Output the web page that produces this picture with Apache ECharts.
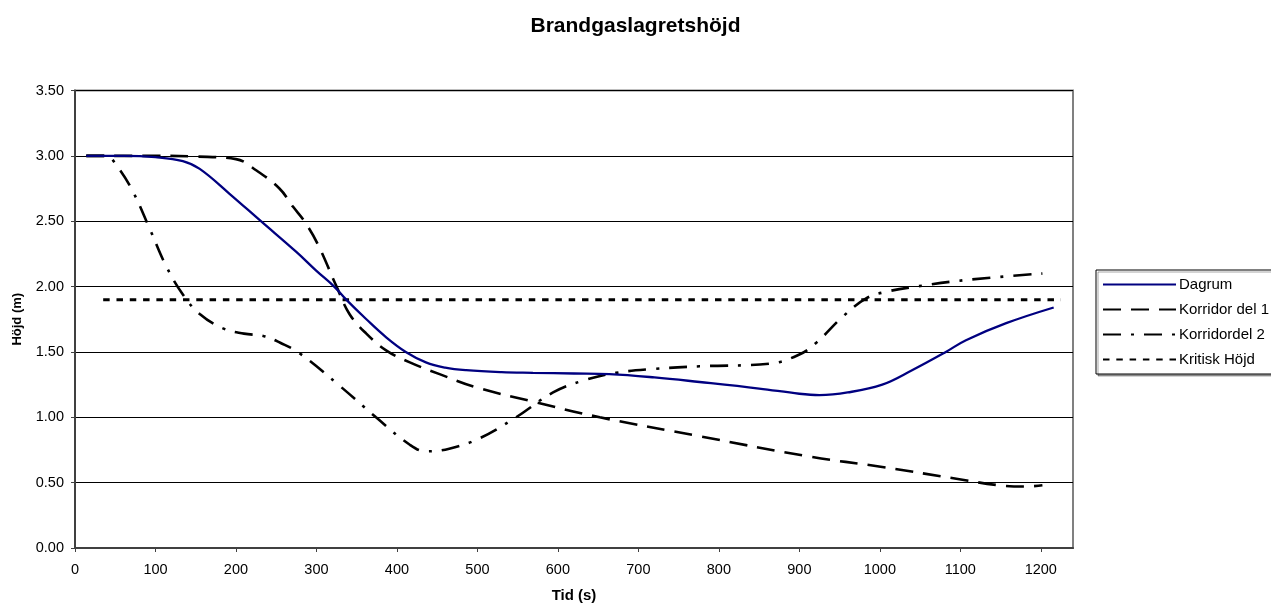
<!DOCTYPE html>
<html>
<head>
<meta charset="utf-8">
<title>Brandgaslagretshöjd</title>
<script src="https://cdn.jsdelivr.net/npm/echarts@6/dist/echarts.min.js"></script>
<style>
  html, body { margin: 0; padding: 0; background: #fff; }
  #chart { width: 1271px; height: 608px; }
</style>
</head>
<body>
<div id="chart"></div>
<script>
// Smoke layer height over time, per zone
const dagrumTid  = [14, 60, 100, 134, 155, 192, 231, 275, 300, 322, 337, 362, 387, 411, 436, 460, 486, 530, 569, 620, 664, 720, 776, 850, 900, 925, 960, 1003, 1040, 1082, 1107, 1157, 1216];
const dagrumHojd = [3.00, 3.00, 2.99, 2.96, 2.90, 2.71, 2.50, 2.265, 2.12, 2.00, 1.90, 1.75, 1.61, 1.50, 1.42, 1.38, 1.36, 1.345, 1.34, 1.335, 1.33, 1.305, 1.27, 1.22, 1.18, 1.17, 1.19, 1.25, 1.36, 1.50, 1.59, 1.72, 1.84];

const korr1Tid  = [14, 100, 150, 200, 225, 254, 271, 285, 302, 325, 341, 362, 387, 416, 453, 498, 569, 652, 776, 912, 1003, 1095, 1148, 1180, 1202];
const korr1Hojd = [3.00, 3.00, 2.995, 2.975, 2.89, 2.75, 2.61, 2.50, 2.32, 2.00, 1.79, 1.64, 1.51, 1.42, 1.33, 1.23, 1.12, 1.00, 0.855, 0.70, 0.62, 0.53, 0.48, 0.47, 0.48];

const korr2Tid  = [14, 40, 49, 70, 93, 113, 134, 155, 184, 210, 235, 255, 279, 329, 374, 416, 436, 465, 503, 548, 594, 631, 672, 720, 776, 863, 900, 921, 954, 983, 1008, 1045, 1107, 1202];
const korr2Hojd = [3.00, 3.00, 2.95, 2.75, 2.44, 2.16, 1.94, 1.79, 1.68, 1.64, 1.62, 1.57, 1.49, 1.24, 1.00, 0.79, 0.74, 0.76, 0.84, 1.00, 1.19, 1.28, 1.34, 1.37, 1.39, 1.41, 1.48, 1.57, 1.77, 1.91, 1.96, 2.00, 2.05, 2.10];

const kritiskTid  = [35, 1225];
const kritiskHojd = [1.90, 1.90];

const seriesNames = ['Dagrum', 'Korridor del 1', 'Korridordel 2', 'Kritisk Höjd'];

const xMin = 0, xMax = 1240, xStep = 100;
const yMin = 0, yMax = 3.5, yStep = 0.5;

const zip = (xs, ys) => xs.map((x, i) => [x, ys[i]]);

const FONT = 'Liberation Sans, Arial, Helvetica, sans-serif';

const chart = echarts.init(document.getElementById('chart'), null, { renderer: 'canvas' });

chart.setOption({
  animation: false,
  backgroundColor: '#ffffff',
  title: {
    text: 'Brandgaslagretshöjd',
    left: 'center',
    top: 11,
    textStyle: { fontFamily: FONT, fontSize: 21, fontWeight: 'bold', color: '#000' }
  },
  legend: {
    data: seriesNames,
    orient: 'vertical',
    left: 1096,
    top: 270,
    itemWidth: 73,
    itemHeight: 15,
    itemGap: 10,
    padding: [7, 4, 7, 6],
    borderColor: '#000',
    borderWidth: 1,
    backgroundColor: '#fff',
    shadowColor: 'rgba(0,0,0,0.35)',
    shadowOffsetX: 2,
    shadowOffsetY: 2,
    shadowBlur: 0,
    itemStyle: { opacity: 0 },
    textStyle: { fontFamily: FONT, fontSize: 15, color: '#000', padding: [0, 0, 0, -2] }
  },
  grid: {
    left: 75,
    right: 198,
    top: 90.5,
    bottom: 56,
    show: true,
    borderColor: '#808080',
    borderWidth: 2,
    containLabel: false
  },
  xAxis: {
    type: 'value',
    min: xMin,
    max: xMax,
    interval: xStep,
    name: 'Tid (s)',
    nameLocation: 'middle',
    nameGap: 40,
    nameTextStyle: { fontFamily: FONT, fontSize: 15, fontWeight: 'bold', color: '#000' },
    axisLine: { show: true, lineStyle: { color: '#404040', width: 2 } },
    axisTick: { show: true, length: 4, lineStyle: { color: '#404040', width: 1 } },
    axisLabel: {
      margin: 14, showMaxLabel: false,
      fontFamily: FONT, fontSize: 14.5, color: '#000',
      formatter: v => String(v)
    },
    splitLine: { show: false }
  },
  yAxis: {
    type: 'value',
    min: yMin,
    max: yMax,
    interval: yStep,
    name: 'Höjd (m)',
    nameLocation: 'middle',
    nameGap: 51,
    nameTextStyle: { fontFamily: FONT, fontSize: 13, fontWeight: 'bold', color: '#000' },
    axisLine: { show: true, lineStyle: { color: '#404040', width: 2 } },
    axisTick: { show: true, length: 4, lineStyle: { color: '#404040', width: 1 } },
    axisLabel: {
      margin: 11,
      fontFamily: FONT, fontSize: 14.5, color: '#000',
      formatter: v => v.toFixed(2)
    },
    splitLine: { show: true, lineStyle: { color: '#000', width: 1 } }
  },
  series: [
    {
      name: seriesNames[0],
      type: 'line',
      data: zip(dagrumTid, dagrumHojd),
      symbol: 'none',
      smooth: 0.4,
      lineStyle: { color: '#000080', width: 2.3, type: 'solid' },
      itemStyle: { color: '#000080' },
      z: 5
    },
    {
      name: seriesNames[1],
      type: 'line',
      data: zip(korr1Tid, korr1Hojd),
      symbol: 'none',
      smooth: 0.4,
      lineStyle: { color: '#000', width: 2.6, type: [18, 10] },
      itemStyle: { color: '#000' },
      z: 4
    },
    {
      name: seriesNames[2],
      type: 'line',
      data: zip(korr2Tid, korr2Hojd),
      symbol: 'none',
      smooth: 0.4,
      lineStyle: { color: '#000', width: 2.6, type: [18, 10, 3, 10] },
      itemStyle: { color: '#000' },
      z: 4
    },
    {
      name: seriesNames[3],
      type: 'line',
      data: zip(kritiskTid, kritiskHojd),
      symbol: 'none',
      lineStyle: { color: '#000', width: 3, type: [6.5, 6.8] },
      itemStyle: { color: '#000' },
      z: 3
    }
  ]
});
</script>
</body>
</html>
